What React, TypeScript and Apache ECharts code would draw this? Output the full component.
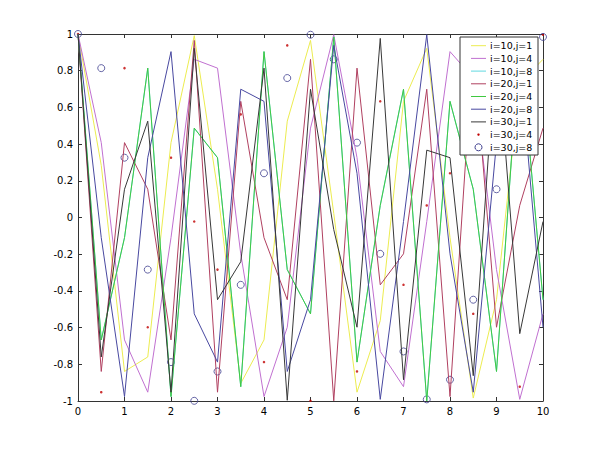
import React, { useEffect, useRef } from "react";
import * as echarts from "echarts";

const xs = [0, 0.5, 1, 1.5, 2, 2.5, 3, 3.5, 4, 4.5, 5, 5.5, 6, 6.5, 7, 7.5, 8, 8.5, 9, 9.5, 10];

const i10j1 = [1, 0.284, -0.839, -0.76, 0.408, 0.991, 0.154, -0.904, -0.667, 0.525, 0.965, 0.022, -0.952, -0.562, 0.633, 0.922, -0.11, -0.984, -0.448, 0.73, 0.862];
const i10j4 = [1, 0.408, -0.667, -0.952, -0.11, 0.862, 0.814, -0.198, -0.976, -0.598, 0.487, 0.996, 0.326, -0.73, -0.922, -0.022, 0.904, 0.76, -0.284, -0.991, -0.525];
const i10j8 = [1, -0.667, -0.11, 0.814, -0.976, 0.487, 0.326, -0.922, 0.904, -0.284, -0.525, 0.984, -0.788, 0.066, 0.699, -0.999, 0.633, 0.154, -0.839, 0.965, -0.448];
const i20j1 = [1, -0.839, 0.408, 0.154, -0.667, 0.965, -0.952, 0.633, -0.11, -0.448, 0.862, -0.999, 0.814, -0.367, -0.198, 0.699, -0.976, 0.938, -0.598, 0.066, 0.487];
const i20j4 = [1, -0.667, -0.11, 0.814, -0.976, 0.487, 0.326, -0.922, 0.904, -0.284, -0.525, 0.984, -0.788, 0.066, 0.699, -0.999, 0.633, 0.154, -0.839, 0.965, -0.448];
const i20j8 = [1, -0.11, -0.976, 0.326, 0.904, -0.525, -0.788, 0.699, 0.633, -0.839, -0.448, 0.938, 0.241, -0.991, -0.022, 0.996, -0.198, -0.952, 0.408, 0.862, -0.598];
const i30j1 = [1, -0.76, 0.154, 0.525, -0.952, 0.922, -0.448, -0.241, 0.814, -0.996, 0.699, -0.066, -0.598, 0.976, -0.884, 0.367, 0.326, -0.862, 0.984, -0.633, -0.022];
const i30j4 = [1, -0.952, 0.814, -0.598, 0.326, -0.022, -0.284, 0.562, -0.788, 0.938, -0.999, 0.965, -0.839, 0.633, -0.367, 0.066, 0.241, -0.525, 0.76, -0.922, 0.996];
const i30j8 = [1, 0.814, 0.326, -0.284, -0.788, -0.999, -0.839, -0.367, 0.241, 0.76, 0.996, 0.862, 0.408, -0.198, -0.73, -0.991, -0.884, -0.448, 0.154, 0.699, 0.984];

const lineNames = ["i=10,j=1", "i=10,j=4", "i=10,j=8", "i=20,j=1", "i=20,j=4", "i=20,j=8", "i=30,j=1"];
const lineValues = [i10j1, i10j4, i10j8, i20j1, i20j4, i20j8, i30j1];
const dotName = "i=30,j=4";
const circleName = "i=30,j=8";

const lineColors = ["#ecec50", "#c070d0", "#60d8e0", "#b04060", "#40c840", "#4848a0", "#383838"];
const dotColor = "#c00000";
const circleColor = "#404090";

const FONT = '"DejaVu Sans", sans-serif';

function pairs(vals: number[]) {
  return xs.map((x, k) => [x, vals[k]]);
}

export default function App() {
  const ref = useRef<HTMLDivElement>(null);
  useEffect(() => {
    if (!ref.current) return;
    const chart = echarts.init(ref.current, undefined, { renderer: "svg" });

    const axisCommon = {
      type: "value" as const,
      splitLine: { show: false },
      axisLine: { show: true, onZero: false, lineStyle: { color: "#333", width: 1 } },
      axisTick: { show: true, inside: true, length: 4, lineStyle: { color: "#333" } },
    };
    const fmt = (v: number) => String(Math.round(v * 10) / 10);

    const series: any[] = lineNames.map((name, idx) => ({
      name,
      type: "line",
      data: pairs(lineValues[idx]),
      symbol: "none",
      lineStyle: { color: lineColors[idx], width: 1 },
      itemStyle: { color: lineColors[idx] },
    }));
    series.push({
      name: dotName,
      type: "scatter",
      data: pairs(i30j4),
      symbol: "circle",
      symbolSize: 2.5,
      itemStyle: { color: dotColor },
    });
    series.push({
      name: circleName,
      type: "scatter",
      data: pairs(i30j8),
      symbol: "circle",
      symbolSize: 7,
      itemStyle: { color: "transparent", borderColor: circleColor, borderWidth: 1 },
    });

    // legend drawn as graphic (MATLAB style)
    const lx = 460, ly = 37, lw = 78, lh = 118;
    const rowY0 = 45.7, rowGap = 12.7;
    const Z = 100;
    const children: any[] = [
      { type: "rect", z: Z, shape: { x: lx, y: ly, width: lw, height: lh }, style: { fill: "#fff", stroke: "#333", lineWidth: 1 } },
    ];
    const allNames = [...lineNames, dotName, circleName];
    allNames.forEach((name, r) => {
      const cy = rowY0 + r * rowGap;
      if (r < lineNames.length) {
        children.push({ type: "line", z: Z + 1, shape: { x1: 471, y1: cy, x2: 486, y2: cy }, style: { stroke: lineColors[r], lineWidth: 1 } });
      } else if (name === dotName) {
        children.push({ type: "circle", z: Z + 1, shape: { cx: 478.5, cy, r: 1.2 }, style: { fill: dotColor } });
      } else {
        children.push({ type: "circle", z: Z + 1, shape: { cx: 478.5, cy, r: 3.5 }, style: { fill: "none", stroke: circleColor, lineWidth: 1 } });
      }
      children.push({
        type: "text",
        z: Z + 1,
        style: { text: name, x: 490, y: cy, fill: "#000", fontSize: 9.5, fontFamily: FONT, verticalAlign: "middle", align: "left" },
      });
    });

    chart.setOption({
      animation: false,
      backgroundColor: "#fff",
      grid: { left: 78, right: 57, top: 34, bottom: 49, containLabel: false },
      xAxis: [
        {
          ...axisCommon,
          position: "bottom",
          min: 0, max: 10, interval: 1,
          axisLabel: { color: "#000", fontSize: 10, fontFamily: FONT, margin: 5, formatter: fmt },
        },
        {
          ...axisCommon,
          position: "top",
          min: 0, max: 10, interval: 1,
          axisLabel: { show: false },
        },
      ],
      yAxis: [
        {
          ...axisCommon,
          position: "left",
          min: -1, max: 1, interval: 0.2,
          axisLabel: { color: "#000", fontSize: 10, fontFamily: FONT, margin: 5, formatter: fmt },
        },
        {
          ...axisCommon,
          position: "right",
          min: -1, max: 1, interval: 0.2,
          axisLabel: { show: false },
        },
      ],
      series,
      graphic: children,
    });

    return () => chart.dispose();
  }, []);

  return (
    <div
      ref={ref}
      style={{ position: "fixed", left: 0, top: 0, width: 600, height: 450, background: "#fff" }}
    />
  );
}
